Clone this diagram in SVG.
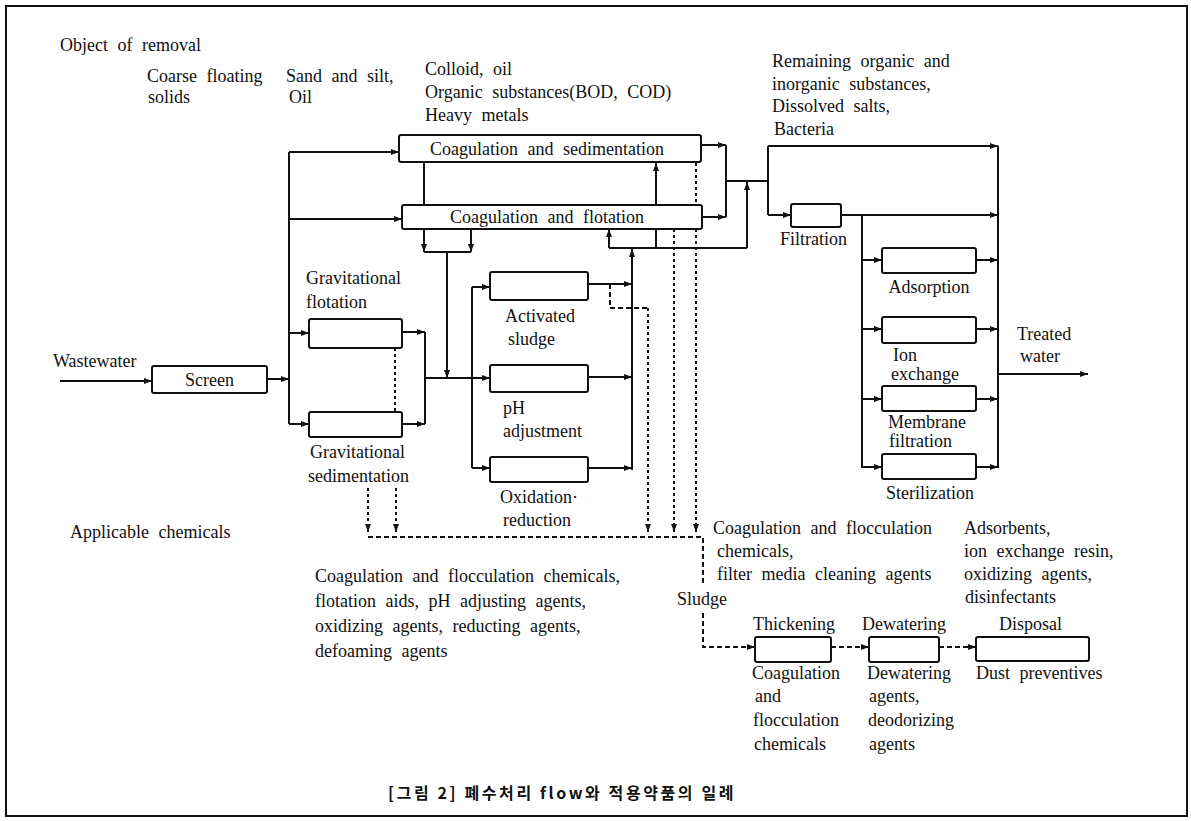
<svg xmlns="http://www.w3.org/2000/svg" width="1191" height="821" viewBox="0 0 1191 821">
<style>
.t{font-family:"Liberation Serif","Times New Roman",serif;font-size:18px;fill:#111;word-spacing:5px}
.box{fill:#fff;stroke:#111;stroke-width:2}
.ln{fill:none;stroke:#111;stroke-width:2}
.dt{fill:none;stroke:#111;stroke-width:2;stroke-dasharray:3 3}
.ds{fill:none;stroke:#111;stroke-width:2;stroke-dasharray:5 3}
.cap{font-family:"Noto Sans CJK KR","Noto Sans",sans-serif;font-size:16px;font-weight:bold;fill:#111;letter-spacing:2.6px}
</style>
<defs>
<marker id="ah" markerUnits="userSpaceOnUse" markerWidth="8" markerHeight="6" refX="8" refY="3" orient="auto"><path d="M0,0 L8,3 L0,6 z" fill="#111"/></marker>
</defs>
<rect x="0" y="0" width="1191" height="821" fill="#fff"/>
<rect x="6" y="6" width="1181" height="810" fill="none" stroke="#111" stroke-width="2"/>

<g id="connectors">
<path class="ln" d="M60,381 H152" marker-end="url(#ah)"/>
<path class="ln" d="M267,379 H289" marker-end="url(#ah)"/>
<path class="ln" d="M289,152 V424"/>
<path class="ln" d="M289,152 H399" marker-end="url(#ah)"/>
<path class="ln" d="M289,219 H402" marker-end="url(#ah)"/>
<path class="ln" d="M289,333 H309" marker-end="url(#ah)"/>
<path class="ln" d="M289,424 H309" marker-end="url(#ah)"/>
<path class="ln" d="M402,332 H425" marker-end="url(#ah)"/>
<path class="ln" d="M402,424 H425" marker-end="url(#ah)"/>
<path class="ln" d="M425,332 V424"/>
<path class="ln" d="M425,378 H490" marker-end="url(#ah)"/>
<path class="ln" d="M472,287 V468"/>
<path class="ln" d="M472,287 H490" marker-end="url(#ah)"/>
<path class="ln" d="M472,468 H490" marker-end="url(#ah)"/>
<path class="ln" d="M424,162 V205"/>
<path class="ln" d="M424,252 H471"/>
<path class="ln" d="M424,229 V252" marker-end="url(#ah)"/>
<path class="ln" d="M471,229 V252" marker-end="url(#ah)"/>
<path class="ln" d="M447,252 V378" marker-end="url(#ah)"/>
<path class="ln" d="M588,284 H632" marker-end="url(#ah)"/>
<path class="ln" d="M588,377 H632" marker-end="url(#ah)"/>
<path class="ln" d="M588,468 H632" marker-end="url(#ah)"/>
<path class="ln" d="M632,470 V249" marker-end="url(#ah)"/>
<path class="ln" d="M656,248 V163" marker-end="url(#ah)"/>
<path class="ln" d="M609,248 V229" marker-end="url(#ah)"/>
<path class="ln" d="M609,248 H747"/>
<path class="ln" d="M747,248 V182" marker-end="url(#ah)"/>
<path class="ln" d="M726,181 H768"/>
<path class="ln" d="M701,145 H726" marker-end="url(#ah)"/>
<path class="ln" d="M702,217 H726" marker-end="url(#ah)"/>
<path class="ln" d="M726,145 V217"/>
<path class="ln" d="M768,146 V215"/>
<path class="ln" d="M768,146 H998" marker-end="url(#ah)"/>
<path class="ln" d="M768,215 H791" marker-end="url(#ah)"/>
<path class="ln" d="M841,215 H998" marker-end="url(#ah)"/>
<path class="ln" d="M998,146 V468"/>
<path class="ln" d="M862,215 V468"/>
<path class="ln" d="M862,260 H882" marker-end="url(#ah)"/>
<path class="ln" d="M976,260 H998" marker-end="url(#ah)"/>
<path class="ln" d="M862,329 H882" marker-end="url(#ah)"/>
<path class="ln" d="M976,329 H998" marker-end="url(#ah)"/>
<path class="ln" d="M862,399 H882" marker-end="url(#ah)"/>
<path class="ln" d="M976,399 H998" marker-end="url(#ah)"/>
<path class="ln" d="M862,467 H882" marker-end="url(#ah)"/>
<path class="ln" d="M976,467 H998" marker-end="url(#ah)"/>
<path class="ln" d="M998,374 H1088" marker-end="url(#ah)"/>
<path class="ds" d="M610,284 V308 H648"/>
<path class="dt" d="M648,308 V532" marker-end="url(#ah)"/>
<path class="dt" d="M674,229 V532" marker-end="url(#ah)"/>
<path class="dt" d="M696,163 V205"/>
<path class="dt" d="M696,229 V532" marker-end="url(#ah)"/>
<path class="dt" d="M395,348 V412"/>
<path class="dt" d="M368,488 V532" marker-end="url(#ah)"/>
<path class="dt" d="M396,488 V532" marker-end="url(#ah)"/>
<path class="ds" d="M368,537 H703 V585"/>
<path class="ds" d="M703,613 V647 H755" marker-end="url(#ah)"/>
<path class="ds" d="M831,647 H869" marker-end="url(#ah)"/>
<path class="ds" d="M939,647 H976" marker-end="url(#ah)"/>
</g>

<g id="screen"><rect class="box" x="152" y="366" width="115" height="27" rx="2"/><text class="t" x="209.5" y="386" text-anchor="middle">Screen</text></g>
<g id="coag-sed"><rect class="box" x="399" y="135" width="302" height="27" rx="2"/><text class="t" x="547" y="155" text-anchor="middle">Coagulation and sedimentation</text></g>
<g id="coag-flot"><rect class="box" x="402" y="205" width="300" height="24" rx="2"/><text class="t" x="547" y="223" text-anchor="middle">Coagulation and flotation</text></g>
<g id="grav-flot"><rect class="box" x="309" y="319" width="93" height="29" rx="2"/><text class="t" x="306" y="284">Gravitational</text><text class="t" x="306" y="308">flotation</text></g>
<g id="grav-sed"><rect class="box" x="309" y="412" width="93" height="25" rx="2"/><text class="t" x="310" y="458">Gravitational</text><text class="t" x="308" y="482">sedimentation</text></g>
<g id="act-sludge"><rect class="box" x="490" y="272" width="98" height="28" rx="2"/><text class="t" x="505" y="322">Activated</text><text class="t" x="508" y="345">sludge</text></g>
<g id="ph"><rect class="box" x="490" y="365" width="98" height="27" rx="2"/><text class="t" x="503" y="414">pH</text><text class="t" x="503" y="437">adjustment</text></g>
<g id="oxid"><rect class="box" x="490" y="457" width="98" height="25" rx="2"/><text class="t" x="500" y="503">Oxidation·</text><text class="t" x="503" y="526">reduction</text></g>
<g id="filtration"><rect class="box" x="791" y="204" width="50" height="23" rx="2"/><text class="t" x="780" y="245">Filtration</text></g>
<g id="adsorption"><rect class="box" x="882" y="248" width="94" height="25" rx="2"/><text class="t" x="929" y="293" text-anchor="middle">Adsorption</text></g>
<g id="ion"><rect class="box" x="882" y="317" width="94" height="26" rx="2"/><text class="t" x="893" y="361">Ion</text><text class="t" x="891" y="380">exchange</text></g>
<g id="membrane"><rect class="box" x="882" y="386" width="94" height="25" rx="2"/><text class="t" x="888" y="428">Membrane</text><text class="t" x="889" y="447">filtration</text></g>
<g id="steril"><rect class="box" x="882" y="454" width="94" height="25" rx="2"/><text class="t" x="886" y="499">Sterilization</text></g>
<g id="thickening"><rect class="box" x="755" y="637" width="76" height="25" rx="2"/><text class="t" x="753" y="630">Thickening</text></g>
<g id="dewatering"><rect class="box" x="869" y="637" width="70" height="25" rx="2"/><text class="t" x="862" y="630">Dewatering</text></g>
<g id="disposal"><rect class="box" x="976" y="637" width="113" height="24" rx="2"/><text class="t" x="999" y="630">Disposal</text></g>

<g id="labels">
<text class="t" x="60" y="51">Object of removal</text>
<text class="t" x="147" y="82">Coarse floating</text>
<text class="t" x="148" y="103">solids</text>
<text class="t" x="286" y="82">Sand and silt,</text>
<text class="t" x="289" y="103">Oil</text>
<text class="t" x="425" y="75">Colloid, oil</text>
<text class="t" x="425" y="98">Organic substances(BOD, COD)</text>
<text class="t" x="425" y="121">Heavy metals</text>
<text class="t" x="772" y="67">Remaining organic and</text>
<text class="t" x="772" y="90">inorganic substances,</text>
<text class="t" x="772" y="112">Dissolved salts,</text>
<text class="t" x="774" y="135">Bacteria</text>
<text class="t" x="53" y="367">Wastewater</text>
<text class="t" x="1017" y="340">Treated</text>
<text class="t" x="1020" y="362">water</text>
<text class="t" x="70" y="538">Applicable chemicals</text>
<text class="t" x="315" y="582">Coagulation and flocculation chemicals,</text>
<text class="t" x="315" y="607">flotation aids, pH adjusting agents,</text>
<text class="t" x="315" y="632">oxidizing agents, reducting agents,</text>
<text class="t" x="315" y="657">defoaming agents</text>
<text class="t" x="713" y="534">Coagulation and flocculation</text>
<text class="t" x="717" y="557">chemicals,</text>
<text class="t" x="717" y="580">filter media cleaning agents</text>
<text class="t" x="677" y="605">Sludge</text>
<text class="t" x="964" y="534">Adsorbents,</text>
<text class="t" x="964" y="557">ion exchange resin,</text>
<text class="t" x="964" y="580">oxidizing agents,</text>
<text class="t" x="965" y="603">disinfectants</text>
<text class="t" x="752" y="679">Coagulation</text>
<text class="t" x="755" y="702">and</text>
<text class="t" x="753" y="726">flocculation</text>
<text class="t" x="754" y="750">chemicals</text>
<text class="t" x="867" y="679">Dewatering</text>
<text class="t" x="869" y="702">agents,</text>
<text class="t" x="868" y="726">deodorizing</text>
<text class="t" x="869" y="750">agents</text>
<text class="t" x="976" y="679">Dust preventives</text>
<text class="cap" x="388" y="799">[그림 2] 폐수처리 flow와 적용약품의 일례</text>
</g>
</svg>
